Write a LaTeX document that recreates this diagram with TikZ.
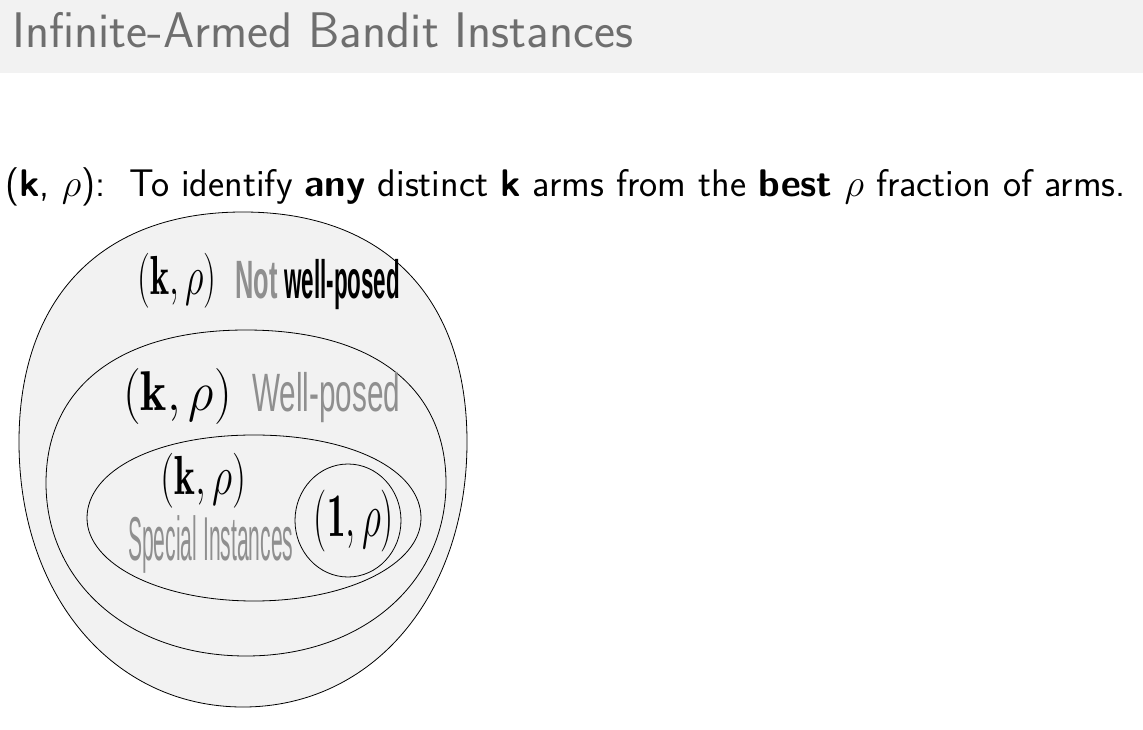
\RequirePackage{fix-cm}
\documentclass[tikz,border=0pt]{standalone}
\usepackage{fontspec}
\usetikzlibrary{shapes.geometric}
\newfontfamily\lblfont{Liberation Sans}
\definecolor{barbg}{HTML}{F2F2F2}
\definecolor{titlegray}{HTML}{6E6E6E}
\definecolor{labgray}{HTML}{8F8F8F}
\newcommand{\fsz}[1]{\fontsize{#1}{#1}\selectfont}
% egg-like closed curve: centre x, widest y, half width, top height, bottom height, top bulge, bottom bulge
\newcommand{\blob}[7]{({#1+#3},#2)
  .. controls ({#1+#3},{#2-#6*#4}) and ({#1+#6*#3},{#2-#4}) .. (#1,{#2-#4})
  .. controls ({#1-#6*#3},{#2-#4}) and ({#1-#3},{#2-#6*#4}) .. ({#1-#3},#2)
  .. controls ({#1-#3},{#2+#7*#5}) and ({#1-#7*#3},{#2+#5}) .. (#1,{#2+#5})
  .. controls ({#1+#7*#3},{#2+#5}) and ({#1+#3},{#2+#7*#5}) .. cycle}
\begin{document}
\begin{tikzpicture}[x=1pt,y=-1pt,
  setline/.style={draw=black, line width=0.8pt, fill=barbg},
  txt/.style={inner sep=0pt, anchor=base west}]
\useasboundingbox (0,0) rectangle (1143,730);
\node[fill=barbg, minimum width=1143pt, minimum height=73pt, anchor=north west, inner sep=0pt] (bar) at (0,0) {};
\node[txt, text=titlegray] (title) at (12,48) {\sffamily\fsz{50}Infinite-Armed Bandit Instances};
\node[txt] (def) at (5,197) {\sffamily\fsz{38.5}(\textbf{k}, $\rho$):\ \ To identify \textbf{any} distinct \textbf{k} arms from the \textbf{best} $\rho$ fraction of arms.};
% nested sets
\coordinate (outer) at (243,442);
\coordinate (wp) at (246,483);
\coordinate (special) at (254,518);
\draw[setline] \blob{243}{442}{224}{230}{265}{0.63}{0.58};
\draw[setline] \blob{246}{483}{200}{153}{173}{0.63}{0.58};
\draw[setline] \blob{254}{518}{167}{83}{83}{0.58}{0.56};
\node[setline, ellipse, inner sep=0pt, minimum width=106pt, minimum height=113pt] (one) at (348,520.5) {};
% labels
\node[txt] (m1) at (137,294) {\fsz{55}\scalebox{0.66}[1]{$(\mathbf{k},\rho)$}};
\node[txt, text=labgray] (w1a) at (235,298) {\lblfont\bfseries\fsz{54}\scalebox{0.47}[1]{Not}};
\node[txt] (w1b) at (284,298) {\lblfont\bfseries\fsz{54}\scalebox{0.415}[1]{well-posed}};
\node[txt] (m2) at (123,410) {\fsz{56}\scalebox{0.89}[1]{$(\mathbf{k},\rho)$}};
\node[txt, text=labgray] (w2) at (252,411) {\lblfont\fsz{54}\scalebox{0.55}[1]{Well-posed}};
\node[txt] (m3) at (160,494) {\fsz{55}\scalebox{0.72}[1]{$(\mathbf{k},\rho)$}};
\node[txt, text=labgray] (w3) at (128,560) {\lblfont\fsz{62}\scalebox{0.34}[1]{Special Instances}};
\node[inner sep=0pt] (m4) at ([xshift=6pt]one.center) {\fsz{62}\scalebox{0.6}[1]{$(\mathbf{1},\rho)$}};
\end{tikzpicture}
\end{document}
